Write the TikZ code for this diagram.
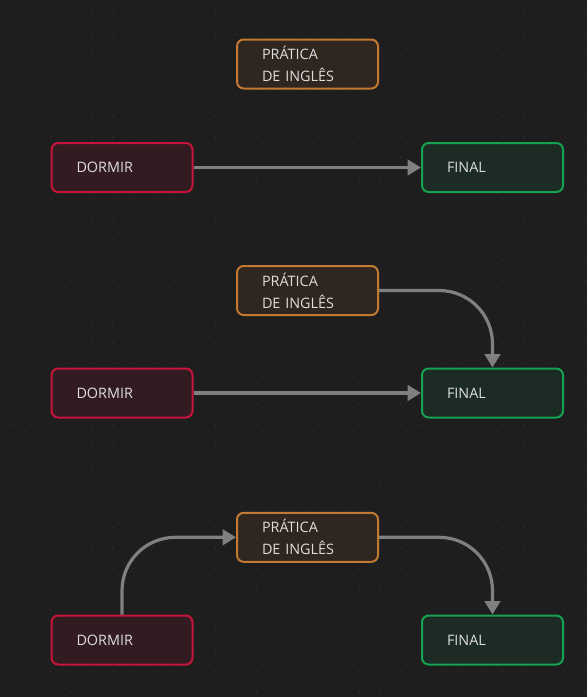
\documentclass[tikz,border=0pt]{standalone}
\usepackage{fontspec}
\setmainfont{Open Sans}
\usetikzlibrary{arrows.meta}
\definecolor{bg}{HTML}{1E1E1E}
\definecolor{dot}{HTML}{323232}
\definecolor{txt}{HTML}{DEDEDE}
\definecolor{arr}{HTML}{808080}
\definecolor{dormirfill}{HTML}{321B21}
\definecolor{dormirline}{HTML}{C8143C}
\definecolor{praticafill}{HTML}{2F2620}
\definecolor{praticaline}{HTML}{C27A32}
\definecolor{finalfill}{HTML}{1C2B24}
\definecolor{finalline}{HTML}{16A350}
\tikzset{
	box/.style={rectangle, rounded corners=5pt, line width=1.5pt, text=txt,
		minimum height=36.75pt, text width=68.25pt, inner xsep=18.75pt, align=left},
	dormir/.style={box, draw=dormirline, fill=dormirfill},
	pratica/.style={box, draw=praticaline, fill=praticafill},
	final/.style={box, draw=finalline, fill=finalfill},
	link/.style={draw=arr, line width=2.4pt, -{Triangle[length=10pt,width=11.5pt]}}
}
\begin{document}
\begin{tikzpicture}[x=0.75pt, y=-0.75pt, font=\fontsize{10.8}{16.5}\selectfont, line join=round]
		\fill[bg] (0,0) rectangle (587,697);
		\useasboundingbox (0,0) rectangle (587,697);
		\foreach \i in {0,...,28}
		\foreach \j in {0,...,33}
		\fill[dot] (10+20.55*\i,13.7+20.55*\j) circle (0.8);
		% first row
		\node[pratica] (p1) at (307.5,64) {PRÁTICA\\DE INGLÊS};
		\node[dormir] (d1) at (122,167.5) {DORMIR};
		\node[final] (f1) at (492.5,167.5) {FINAL};
		\draw[link] (d1.east) -- (f1.west);
		% second row
		\node[pratica] (p2) at (307.5,290.5) {PRÁTICA\\DE INGLÊS};
		\node[dormir] (d2) at (122,393) {DORMIR};
		\node[final] (f2) at (492.5,393) {FINAL};
		\draw[link] (d2.east) -- (f2.west);
		\draw[link, rounded corners=40pt] (p2.east) -| (f2.north);
		% third row
		\node[pratica] (p3) at (307.5,537.3) {PRÁTICA\\DE INGLÊS};
		\node[dormir] (d3) at (122,640) {DORMIR};
		\node[final] (f3) at (492.5,640) {FINAL};
		\draw[link, rounded corners=40pt] (d3.north) |- (p3.west);
		\draw[link, rounded corners=40pt] (p3.east) -| (f3.north);
	\end{tikzpicture}
\end{document}
